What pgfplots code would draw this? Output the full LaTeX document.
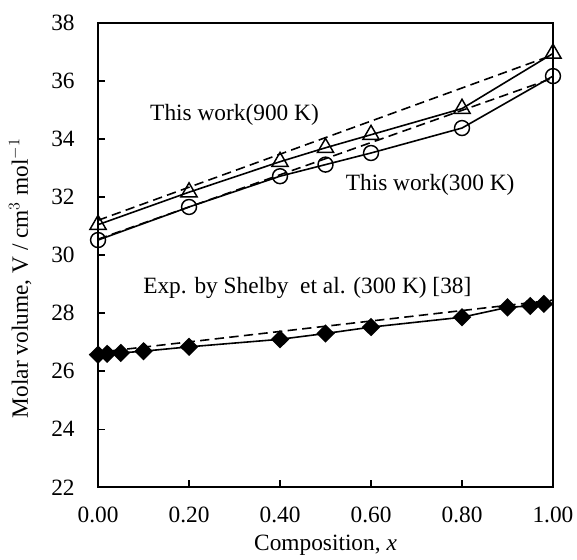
\documentclass[border=0pt]{standalone}
\usepackage{pgfplots}
\pgfplotsset{compat=1.18}
\usepackage{fontspec}
\setmainfont{Liberation Serif}
\newcommand{\bigf}{\fontsize{17.5}{20}\selectfont}

\begin{document}
\begin{tikzpicture}
\begin{axis}[
    name=ax,
    scale only axis,
    width=341pt,
    height=348pt,
    xmin=0, xmax=1,
    ymin=22, ymax=38,
    xtick={0,0.2,...,1.0},
    ytick={22,24,...,38},
    tick align=inside,
    xtick pos=bottom,
    ytick pos=left,
    major tick length=5.5pt,
    axis line style={line width=1.3pt},
    tick style={line width=1.1pt, black},
    tick label style={font=\bigf},
    label style={font=\bigf},
    xticklabel style={yshift=-11pt, /pgf/number format/.cd, fixed, zerofill, precision=2},
    yticklabel style={xshift=-14pt},
    /pgf/number format/assume math mode=true,
    xlabel={Composition, \textit{x}},
    ylabel={Molar volume, V / cm$^{3}$ mol$^{-1}$},
    xlabel style={at={(axis description cs:0.5,-0.125)}, anchor=center},
    ylabel style={at={(axis description cs:-0.171,0.45)}, anchor=center},
    every axis plot/.append style={line width=1.2pt, black},
    clip=false,
]
% 900 K
\addplot[mark=triangle, mark size=7pt, mark options={solid, line width=1.1pt, fill=white}] coordinates {
(0.0,31.05) (0.2,32.17) (0.4,33.22) (0.5,33.70) (0.6,34.15) (0.8,35.05) (1.0,36.95)
};
\addplot[dashed, dash pattern=on 7pt off 4pt, mark=none] coordinates {(0.0,31.2) (1.0,36.9)};
% 300 K
\addplot[mark=o, mark size=5.6pt, mark options={solid, line width=1.1pt}] coordinates {
(0.0,30.52) (0.2,31.66) (0.4,32.72) (0.5,33.12) (0.6,33.52) (0.8,34.38) (1.0,36.17)
};
\addplot[dashed, dash pattern=on 7pt off 4pt, mark=none] coordinates {(0.0,30.55) (1.0,36.1)};
% experiment
\addplot[dashed, dash pattern=on 7pt off 4pt, mark=none] coordinates {(0.0,26.65) (1.0,28.45)};
\addplot[mark=diamond*, mark size=6pt, mark options={solid, xscale=1.35}] coordinates {
(0.0,26.57) (0.02,26.60) (0.05,26.63) (0.1,26.69) (0.2,26.84) (0.4,27.10) (0.5,27.30) (0.6,27.52) (0.8,27.86) (0.9,28.20) (0.95,28.25) (0.98,28.32)
};
\node[font=\bigf] at (axis cs:0.30,34.83) {This work(900 K)};
\node[font=\bigf] at (axis cs:0.73,32.41) {This work(300 K)};
\node[font=\bigf] at (axis cs:0.46,28.86) {Exp. by Shelby\ \ et al. (300 K) [38]};
\end{axis}
\pgfresetboundingbox
\path ([xshift=-73.5pt,yshift=-54pt]ax.south west) rectangle ([xshift=18pt,yshift=17.25pt]ax.north east);
\end{tikzpicture}
\end{document}
